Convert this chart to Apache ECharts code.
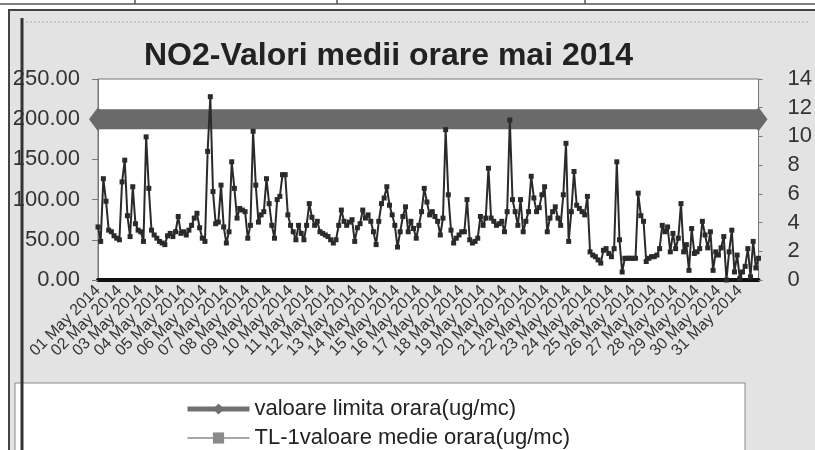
<!DOCTYPE html>
<html>
<head>
<meta charset="utf-8">
<script src="https://cdn.jsdelivr.net/npm/echarts@6/dist/echarts.min.js"></script>
<style>
  html, body { margin: 0; padding: 0; background: #fff; }
  #chart { width: 815px; height: 450px; }
</style>
</head>
<body>
<div id="chart"></div>
<script>
// days of May 2014, one label per day
const days = [
  '01 May 2014', '02 May 2014', '03 May 2014', '04 May 2014', '05 May 2014',
  '06 May 2014', '07 May 2014', '08 May 2014', '09 May 2014', '10 May 2014',
  '11 May 2014', '12 May 2014', '13 May 2014', '14 May 2014', '15 May 2014',
  '16 May 2014', '17 May 2014', '18 May 2014', '19 May 2014', '20 May 2014',
  '21 May 2014', '22 May 2014', '23 May 2014', '24 May 2014', '25 May 2014',
  '26 May 2014', '27 May 2014', '28 May 2014', '29 May 2014', '30 May 2014',
  '31 May 2014'
]
// readings every 3 hours
const hours = ['00', '03', '06', '09', '12', '15', '18', '21']

// TL-1 hourly NO2, ug/mc - one row per day
const tl1Values = [
  66, 48, 126, 98, 62, 60, 55, 52,
  50, 122, 149, 80, 54, 116, 70, 62,
  60, 48, 178, 114, 62, 56, 52, 48,
  46, 44, 55, 58, 54, 60, 79, 58,
  60, 56, 62, 68, 77, 83, 65, 52,
  48, 160, 228, 110, 70, 72, 118, 66,
  46, 60, 147, 114, 77, 89, 87, 85,
  52, 68, 185, 118, 72, 81, 85, 126,
  95, 68, 52, 100, 104, 131, 131, 81,
  68, 60, 50, 68, 58, 50, 68, 95,
  78, 68, 73, 60, 58, 56, 54, 50,
  46, 50, 68, 87, 73, 68, 72, 75,
  48, 65, 70, 87, 77, 81, 73, 60,
  44, 73, 95, 102, 116, 93, 81, 68,
  41, 60, 79, 91, 60, 73, 64, 52,
  68, 85, 114, 97, 81, 85, 79, 73,
  56, 77, 187, 106, 62, 46, 52, 56,
  60, 60, 100, 50, 46, 48, 52, 79,
  68, 77, 139, 77, 73, 68, 70, 73,
  60, 85, 199, 100, 85, 68, 100, 60,
  73, 85, 129, 102, 85, 90, 106, 116,
  60, 77, 85, 91, 77, 68, 106, 170,
  48, 85, 135, 93, 89, 85, 81, 104,
  35, 31, 29, 25, 21, 37, 39, 33,
  29, 39, 147, 50, 10, 27, 27, 27,
  27, 27, 108, 80, 73, 23, 27, 29,
  29, 31, 39, 68, 60, 66, 35, 58,
  39, 52, 95, 35, 44, 12, 64, 33,
  35, 39, 73, 56, 40, 60, 12, 35,
  31, 40, 54, 0, 35, 62, 10, 31,
  2, 10, 17, 39, 4, 48, 15, 27
]

// hourly limit value
const limitValue = 200

const seriesNames = ['valoare limita orara(ug/mc)', 'TL-1valoare medie orara(ug/mc)']

const perDay = hours.length
const categories = []
days.forEach(d => hours.forEach(h => categories.push(d + ' ' + h + ':00')))

// band only shows its diamond at both ends
const lastIdx = categories.length - 1
const limitData = categories.map((c, i) => ({
  value: limitValue,
  symbol: (i === 0 || i === lastIdx) ? 'diamond' : 'none'
}))

const FONT = 'Liberation Sans, Arial, sans-serif'

const chart = echarts.init(document.getElementById('chart'))
chart.setOption({
  backgroundColor: '#fff',
  animation: false,
  textStyle: { fontFamily: FONT },
  graphic: [
    // table lines above the chart (scan)
    { type: 'line', shape: { x1: 0, y1: 4, x2: 815, y2: 4 }, style: { stroke: '#555', lineWidth: 1.5 }, z: -10 },
    { type: 'line', shape: { x1: 135, y1: 0, x2: 135, y2: 4 }, style: { stroke: '#555', lineWidth: 1.5 }, z: -10 },
    { type: 'line', shape: { x1: 337, y1: 0, x2: 337, y2: 4 }, style: { stroke: '#555', lineWidth: 1.5 }, z: -10 },
    { type: 'line', shape: { x1: 585, y1: 0, x2: 585, y2: 4 }, style: { stroke: '#555', lineWidth: 1.5 }, z: -10 },
    // chart area frame
    { type: 'rect', shape: { x: 9, y: 10, width: 810, height: 445 }, style: { fill: '#e3e3e3', stroke: '#444', lineWidth: 2 }, z: -10 },
    { type: 'line', shape: { x1: 26, y1: 22, x2: 810, y2: 22 }, style: { stroke: '#aaa', lineWidth: 1, lineDash: [2, 2] }, z: -9 },
    { type: 'line', shape: { x1: 22, y1: 18, x2: 22, y2: 450 }, style: { stroke: '#333', lineWidth: 3 }, z: 20 },
    // legend box
    { type: 'rect', shape: { x: 15, y: 383, width: 730, height: 70 }, style: { fill: '#fff', stroke: '#888', lineWidth: 1 }, z: -8 }
  ],
  title: {
    text: 'NO2-Valori medii orare mai 2014',
    left: 139,
    top: 35,
    textStyle: { fontFamily: FONT, fontSize: 32, fontWeight: 'bold', color: '#222' }
  },
  legend: {
    orient: 'vertical',
    left: 185,
    top: 398,
    height: 60,
    padding: 0,
    itemGap: 7,
    itemWidth: 62,
    itemHeight: 14,
    textStyle: { fontFamily: FONT, fontSize: 22, color: '#222' },
    data: [
      { name: seriesNames[0], lineStyle: { width: 5, color: '#707070' }, itemStyle: { color: '#707070' } },
      { name: seriesNames[1], lineStyle: { width: 1.5, color: '#8a8a8a' }, itemStyle: { color: '#8a8a8a' } }
    ]
  },
  grid: {
    left: 98,
    right: 47,
    top: 79,
    bottom: 170,
    show: true,
    backgroundColor: '#fff',
    borderColor: '#777',
    borderWidth: 1
  },
  xAxis: {
    type: 'category',
    data: categories,
    boundaryGap: false,
    axisLine: { lineStyle: { color: '#111', width: 4 } },
    axisTick: { show: false },
    axisLabel: {
      // every label is laid out; only the first of each day has text
      interval: 0,
      rotate: 45,
      margin: 8,
      fontSize: 16,
      color: '#333',
      formatter: (v, i) => (i % perDay === 0 ? v.slice(0, 11) : '')
    },
    splitLine: { show: false }
  },
  yAxis: [
    {
      type: 'value',
      min: 0,
      max: 250,
      interval: 50,
      axisLine: { show: true, lineStyle: { color: '#777' } },
      axisTick: { show: true, length: 6, lineStyle: { color: '#777' } },
      axisLabel: { fontSize: 22, color: '#333', margin: 18, formatter: v => v.toFixed(2) },
      splitLine: { show: false }
    },
    {
      type: 'value',
      position: 'right',
      min: 0,
      max: 14,
      interval: 2,
      axisLine: { show: true, lineStyle: { color: '#777' } },
      axisTick: { show: true, length: 4, lineStyle: { color: '#777' } },
      axisLabel: { fontSize: 22, color: '#333', margin: 29 },
      splitLine: { show: false }
    }
  ],
  series: [
    {
      name: seriesNames[0],
      type: 'line',
      data: limitData,
      symbol: 'diamond',
      symbolSize: [18, 24],
      lineStyle: { color: '#6a6a6a', width: 20 },
      itemStyle: { color: '#6a6a6a' },
      clip: false,
      z: 2
    },
    {
      name: seriesNames[1],
      type: 'line',
      data: tl1Values,
      symbol: 'rect',
      symbolSize: 5,
      showAllSymbol: true,
      lineStyle: { color: '#2a2a2a', width: 2 },
      itemStyle: { color: '#2a2a2a' },
      z: 3
    }
  ]
})
</script>
</body>
</html>
